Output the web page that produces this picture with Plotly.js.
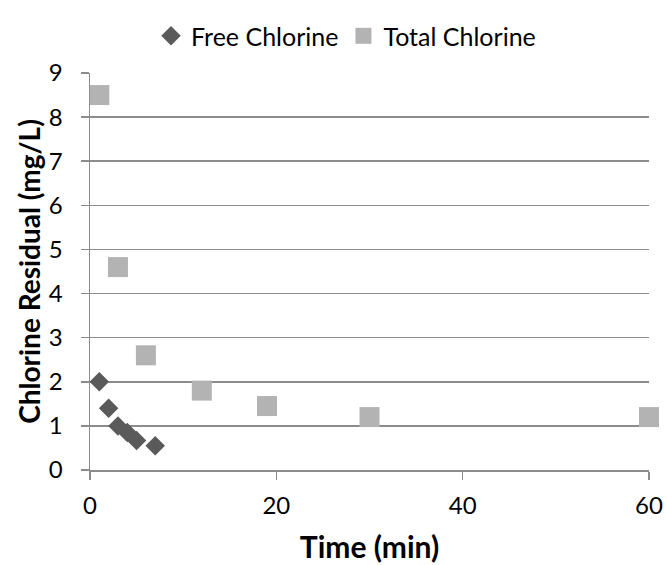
<!DOCTYPE html>
<html>
<head>
<meta charset="utf-8">
<script src="https://cdn.plot.ly/plotly-3.0.1.min.js"></script>
<style>html,body{margin:0;padding:0;background:#fff;}#chart{width:667px;height:565px;}</style>
</head>
<body>
<div id="chart"></div>
<script>
var freeTime = [1, 2, 3, 4, 5, 7];
var freeChlorine = [2.0, 1.4, 1.0, 0.85, 0.67, 0.55];
var totalTime = [1, 3, 6, 12, 19, 30, 60];
var totalChlorine = [8.5, 4.6, 2.6, 1.8, 1.45, 1.2, 1.2];
var xTicks = [0, 20, 40, 60];
var yTicks = [0, 1, 2, 3, 4, 5, 6, 7, 8, 9];

var FONT = 'Lato, Calibri, sans-serif';
var AX = '#8c8c8c';

var traces = [
  {x: freeTime, y: freeChlorine, name: 'Free Chlorine', type: 'scatter', mode: 'markers', cliponaxis: false,
   marker: {symbol: 'diamond', size: 15, color: '#5a5a5a'}},
  {x: totalTime, y: totalChlorine, name: 'Total Chlorine', type: 'scatter', mode: 'markers', cliponaxis: false,
   marker: {symbol: 'square', size: 20, color: '#b3b3b3'}}
];

var layout = {
  width: 667, height: 565,
  margin: {l: 90, r: 18, t: 73, b: 95},
  paper_bgcolor: '#fff', plot_bgcolor: '#fff',
  font: {family: FONT, size: 24, color: '#000'},
  showlegend: true,
  legend: {orientation: 'h', x: 0.458, xanchor: 'center', y: 1.093, yanchor: 'middle',
           font: {family: FONT, size: 25, color: '#000'}, itemwidth: 30, bgcolor: 'rgba(0,0,0,0)'},
  xaxis: {range: [0, 60], tickvals: xTicks, ticktext: xTicks.map(String), showgrid: false, zeroline: false,
          showline: true, linecolor: AX, linewidth: 1.5, ticks: 'outside', ticklen: 8, tickcolor: AX, tickwidth: 1.5,
          ticklabelstandoff: 6,
          tickfont: {family: FONT, size: 24, color: '#000'},
          title: {text: '<b>Time (min)</b>', font: {family: FONT, size: 30, color: '#000'}, standoff: 18}},
  yaxis: {range: [0, 9], tickvals: yTicks, ticktext: yTicks.map(String), showgrid: true, gridcolor: AX, gridwidth: 1.5,
          zeroline: false,
          showline: true, linecolor: AX, linewidth: 1.5, ticks: 'outside', ticklen: 8, tickcolor: AX, tickwidth: 1.5,
          ticklabelstandoff: 13,
          tickfont: {family: FONT, size: 24, color: '#000'},
          title: {text: '<b>Chlorine Residual (mg/L)</b>', font: {family: FONT, size: 28, color: '#000'}, standoff: 0}}
};

Plotly.newPlot('chart', traces, layout, {staticPlot: true, displayModeBar: false});
</script>
</body>
</html>
